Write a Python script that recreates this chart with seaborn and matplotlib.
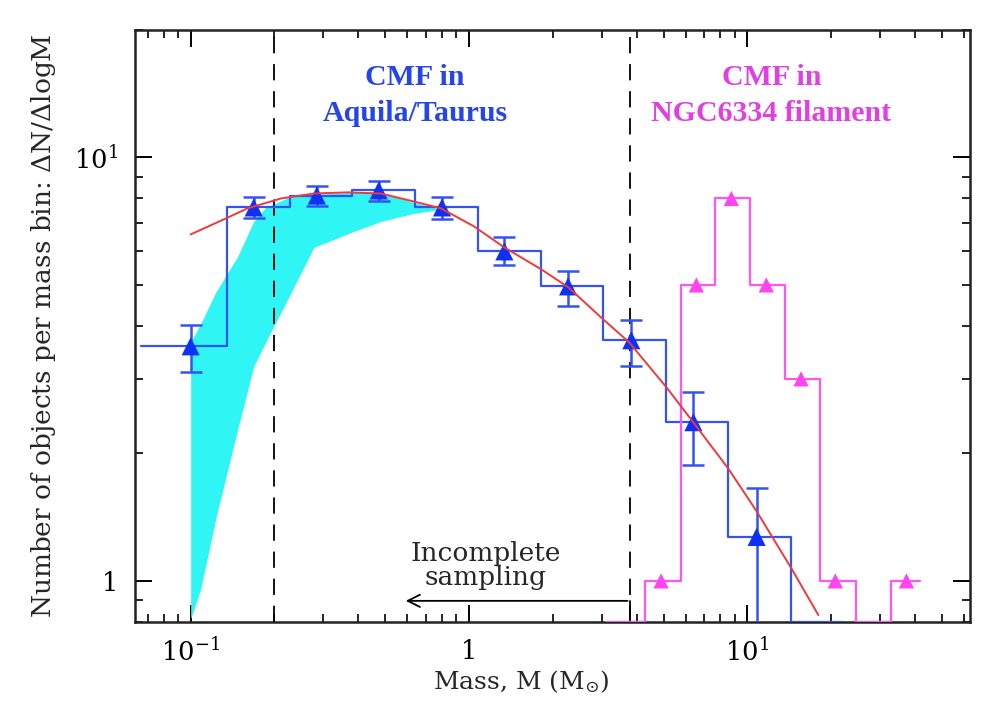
import numpy as np
import pandas as pd
import seaborn as sns
import matplotlib.pyplot as plt

# Aquila/Taurus CMF (blue step histogram with error bars)
aq_edges = [0.0661, 0.1348, 0.227, 0.379, 0.639, 1.077, 1.815, 3.03, 5.11, 8.54, 14.4, 21.8]
aq_counts = [3.58, 7.62, 8.13, 8.36, 7.62, 6.00, 4.96, 3.70, 2.37, 1.27, 0.0]
aq_mass = [0.100, 0.1685, 0.284, 0.474, 0.80, 1.34, 2.27, 3.83, 6.40, 10.8]
aq_value = [3.58, 7.62, 8.13, 8.36, 7.62, 6.00, 4.96, 3.70, 2.37, 1.27]
aq_err_hi = [4.02, 8.05, 8.54, 8.78, 8.05, 6.48, 5.38, 4.13, 2.79, 1.66]
aq_err_lo = [3.11, 7.18, 7.66, 7.87, 7.14, 5.56, 4.45, 3.21, 1.88, 0.0]

# NGC6334 filament CMF (magenta step histogram)
ngc_edges = [3.11, 4.30, 5.80, 7.68, 10.25, 13.6, 18.2, 24.5, 32.7, 41.6]
ngc_counts = [0, 1, 5, 8, 5, 3, 1, 0, 1]
ngc_mass = [4.9, 6.56, 8.76, 11.7, 15.6, 20.7, 37.3]
ngc_value = [1, 5, 8, 5, 3, 1, 1]

# lognormal fit (red)
fit_mass = [0.100, 0.1315, 0.160, 0.211, 0.277, 0.367, 0.482, 0.634, 0.793, 1.04,
            1.34, 1.82, 2.27, 3.03, 3.76, 5.11, 6.39, 8.55, 10.8, 14.4, 18.0]
fit_value = [6.58, 7.14, 7.58, 8.00, 8.22, 8.27, 8.22, 7.87, 7.58, 6.88,
             6.13, 5.44, 4.94, 4.15, 3.66, 2.87, 2.37, 1.84, 1.46, 1.07, 0.83]

# cyan band
band_mass = [0.100, 0.1087, 0.123, 0.1476, 0.1685, 0.186, 0.229, 0.277, 0.386, 0.482, 0.634, 0.793]
band_upper = [3.66, 4.05, 4.80, 5.84, 7.06, 7.62, 8.09, 8.18, 8.27, 8.27, 7.83, 7.54]
band_lower = [0.814, 0.957, 1.40, 2.28, 3.21, 3.66, 4.78, 6.13, 6.69, 7.06, 7.38, 7.54]

completeness = [0.2, 3.8]
arrow_y = 0.897
arrow_to = 0.579

x_ticks = [0.1, 1, 10]
x_ticklabels = ["$10^{-1}$", "1", "$10^{1}$"]
y_ticks = [1, 10]
y_ticklabels = ["1", "$10^{1}$"]
x_lim = (10 ** -1.2, 10 ** 1.8)
y_lim = (0.8, 20)

BLUE = "#3553f0"
MAG = "#ff55f5"

sns.set_theme(style="ticks")
plt.rcParams["font.family"] = ["DejaVu Serif"]
plt.rcParams["mathtext.fontset"] = "dejavuserif"

fig = plt.figure(figsize=(10, 7.14), dpi=100)
ax = fig.add_axes([0.135, 0.129, 0.835, 0.829])
ax.set_xscale("log")
ax.set_yscale("log")

ax.fill_between(band_mass, band_lower, band_upper, color="#2ff5f5", lw=0, zorder=1)

# step histograms; empty bins sit on the lower axis
aq_draw = np.where(np.array(aq_counts) > 0, aq_counts, y_lim[0])
aq_df = pd.DataFrame({"m": aq_edges, "n": list(aq_draw) + [aq_draw[-1]]})
sns.lineplot(data=aq_df, x="m", y="n", drawstyle="steps-post", color=BLUE,
             lw=1.6, ax=ax, zorder=3)

ngc_draw = np.where(np.array(ngc_counts) > 0, ngc_counts, y_lim[0])
ngc_df = pd.DataFrame({"m": ngc_edges, "n": list(ngc_draw) + [ngc_draw[-1]]})
sns.lineplot(data=ngc_df, x="m", y="n", drawstyle="steps-post", color=MAG,
             lw=1.6, ax=ax, zorder=3)

# error bars and markers
val = np.array(aq_value)
lo = np.array(aq_err_lo)
lo = np.where(lo > 0, lo, y_lim[0] * 0.5)
ax.errorbar(aq_mass, aq_value, yerr=[val - lo, np.array(aq_err_hi) - val], fmt="none",
            ecolor=BLUE, elinewidth=1.8, capsize=8, capthick=1.8, zorder=4)
sns.scatterplot(x=aq_mass, y=aq_value, marker="^", s=170, color="#1030f5",
                edgecolor="none", ax=ax, zorder=5)
sns.scatterplot(x=ngc_mass, y=ngc_value, marker="^", s=120, color="#ff44f0",
                edgecolor="none", ax=ax, zorder=5)

sns.lineplot(x=fit_mass, y=fit_value, color="#f03a3a", lw=1.4, ax=ax, zorder=6)

for xc in completeness:
    ax.axvline(xc, color="black", lw=1.3, dashes=(9, 6), zorder=2)

# incomplete sampling arrow
ax.annotate("", xy=(arrow_to, arrow_y), xytext=(completeness[1], arrow_y),
            arrowprops=dict(arrowstyle="->", color="black", lw=1.3, mutation_scale=22))
ax.plot([completeness[1], completeness[1]], [arrow_y, y_lim[0]], color="black", lw=1.3)
ax.text(1.15, 1.085, "Incomplete\nsampling", ha="center", va="center",
        fontsize=19, linespacing=0.95)

ax.text(0.64, 14.0, "CMF in\nAquila/Taurus", color="#2545e8", ha="center", va="center",
        fontsize=21.5, fontweight="bold", family="Liberation Serif", linespacing=1.45)
ax.text(12.2, 14.0, "CMF in\nNGC6334 filament", color="#e040e0", ha="center", va="center",
        fontsize=21.5, fontweight="bold", family="Liberation Serif", linespacing=1.45)

ax.set_xlim(*x_lim)
ax.set_ylim(*y_lim)
ax.set_xticks(x_ticks)
ax.set_xticklabels(x_ticklabels)
ax.set_yticks(y_ticks)
ax.set_yticklabels(y_ticklabels)
ax.tick_params(which="both", direction="in", top=True, right=True, colors="black")
ax.tick_params(which="major", length=12, width=1.4, labelsize=18.5, pad=12)
ax.tick_params(which="minor", length=6, width=1.2)
for s in ax.spines.values():
    s.set_linewidth(1.8)
    s.set_color("#222222")

ax.set_xlabel(r"Mass, M (M$_{\odot}$)", fontsize=18)
ax.xaxis.set_label_coords(0.463, -0.078)
ax.set_ylabel(r"Number of objects per mass bin: $\Delta$N/$\Delta$logM", fontsize=19)
ax.yaxis.set_label_coords(-0.092, 0.5)

fig.savefig("out.png", dpi=100, facecolor="white")
